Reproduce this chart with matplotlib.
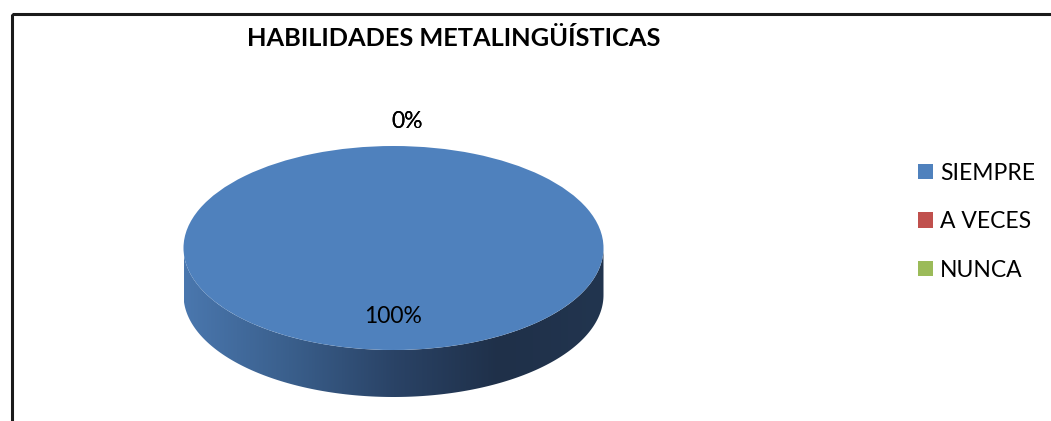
import numpy as np
import matplotlib
matplotlib.use("Agg")
import matplotlib.pyplot as plt
from matplotlib.patches import Polygon, Rectangle
from matplotlib.colors import LinearSegmentedColormap

title = "HABILIDADES METALINGÜÍSTICAS"
categories = ["SIEMPRE", "A VECES", "NUNCA"]
values = [100, 0, 0]
colors = ["#4F81BD", "#C0504D", "#9BBB59"]

W, H = 1051, 421
plt.rcParams['font.family'] = ['Lato', 'DejaVu Sans']
fig = plt.figure(figsize=(W / 100, H / 100), dpi=100)

# background axes in pixel coordinates for frame and title
bg = fig.add_axes([0, 0, 1, 1])
bg.set_xlim(0, W)
bg.set_ylim(H, 0)
bg.axis("off")
bg.add_patch(Rectangle((12, 14), W + 20, H + 20, fill=False, edgecolor="#1a1a1a", linewidth=2.2))
bg.text(453.5, 39, title, fontsize=18.3, fontweight="bold", ha="center", va="center", color="black")

# pie geometry (pixels)
cx, cy, a, b, depth = 393.5, 248, 210, 102, 47
d = depth / b
left = (cx - a) / W
width = 2 * a / W
top_px = cy - b
bottom_px = cy + b + depth
ax = fig.add_axes([left, (H - bottom_px) / H, width, (bottom_px - top_px) / H])

wedges, _ = ax.pie(values, colors=colors, startangle=90, counterclock=False,
                   radius=1, wedgeprops=dict(linewidth=0), normalize=True)
ax.set_aspect("auto")
ax.set_xlim(-1, 1)
ax.set_ylim(-1 - d, 1)
ax.axis("off")

# side wall of the 3D pie with horizontal gradient
t = np.linspace(np.pi, 2 * np.pi, 200)
xs = np.cos(t)
ys = np.sin(t)
pts = np.concatenate([np.column_stack([xs, ys]), np.column_stack([xs[::-1], ys[::-1] - d])])
side = Polygon(pts, closed=True, facecolor="none", edgecolor="none")
ax.add_patch(side)
cmap = LinearSegmentedColormap.from_list("side", ["#4A77AE", "#3A5F8C", "#2A4366", "#1F3049", "#22354F"])
grad = np.linspace(0, 1, 256).reshape(1, -1)
im = ax.imshow(grad, extent=[-1, 1, -1 - d, 0.05], cmap=cmap, aspect="auto", zorder=0.5)
im.set_clip_path(side)
for w in wedges:
    w.set_zorder(1)

# percentage labels
total = float(sum(values))
angle = 90.0
for v in values:
    span = 360.0 * v / total
    mid = np.deg2rad(angle - span / 2)
    r = 0.67 if v > 0 else 1.24
    xl, yl = r * np.cos(mid), r * np.sin(mid)
    if v == 0:
        xl += 14 / a
    ax.text(xl, yl, f"{v / total * 100:.0f}%", ha="center", va="center", fontsize=16.5, color="black", zorder=3)
    angle -= span

leg = fig.legend(wedges, categories, loc="upper left", bbox_to_anchor=(897 / W, 1 - 142 / H),
                 frameon=False, fontsize=16.5, handlelength=0.66, handleheight=0.66,
                 handletextpad=0.33, labelspacing=1.2)

fig.savefig("out.png", dpi=100)
